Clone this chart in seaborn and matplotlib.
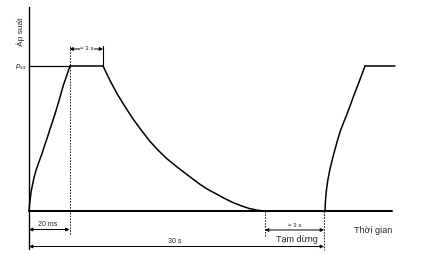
import matplotlib
matplotlib.use("Agg")
import matplotlib.pyplot as plt
import seaborn as sns
import pandas as pd

sns.set_style("white")
plt.rcParams['font.family'] = ['Liberation Sans', 'DejaVu Sans']

# schematic time positions (drawing units) and pressure as fraction of p_ss
rise1_t = [29, 29.5, 30.3, 31.3, 32.5, 34, 36, 38.5, 41.7, 44.5, 47.5, 50,
           52.7, 55.5, 58.5, 61, 63.5, 66.5, 70]
rise1_p = [0, 0.04, 0.09, 0.14, 0.18, 0.23, 0.28, 0.33, 0.39, 0.45, 0.51, 0.565,
           0.62, 0.68, 0.75, 0.81, 0.87, 0.93, 1.0]
hold_t = [70, 103]
hold_p = [1.0, 1.0]
decay_t = [103, 110, 117, 125, 133, 141, 150, 158, 167, 175, 183, 192, 200,
           208, 217, 225, 233, 242, 250, 258, 265]
decay_p = [1.0, 0.90, 0.81, 0.72, 0.635, 0.56, 0.48, 0.42, 0.36, 0.315, 0.272,
           0.225, 0.184, 0.148, 0.115, 0.085, 0.058, 0.034, 0.016, 0.005, 0.0]
rise2_t = [325, 325.3, 325.8, 326.7, 328, 329.7, 331.7, 334, 337, 340, 343,
           346.5, 350, 354, 358, 361.5, 365]
rise2_p = [0, 0.05, 0.10, 0.159, 0.22, 0.28, 0.338, 0.40, 0.475, 0.545, 0.60,
           0.66, 0.724, 0.80, 0.87, 0.935, 1.0]
hold2_t = [365, 395]
hold2_p = [1.0, 1.0]

labels = {"y": "Áp suất", "x": "Thời gian", "p": r"$p_{ss}$",
          "hold": "≈ 3 s", "rise": "20 ms", "cycle": "30 s",
          "pause": "≈ 3 s", "pause_lbl": "Tạm dừng"}

def py(pix):
    return (212 - pix) / 145.0

fig = plt.figure(figsize=(4.32, 2.55), dpi=100)
ax = fig.add_axes([0, 0, 1, 1])
ax.set_xlim(0, 432)
ax.set_ylim(py(255), py(0))
ax.axis("off")

segs = [(rise1_t, rise1_p), (hold_t, hold_p), (decay_t, decay_p),
        (rise2_t, rise2_p), (hold2_t, hold2_p)]
for t, p in segs:
    df = pd.DataFrame({"t": t, "p": p})
    sns.lineplot(data=df, x="t", y="p", ax=ax, color="black", lw=1.1,
                 sort=False, estimator=None, legend=False)

k = "black"
# axes lines
ax.plot([29, 392], [0, 0], color=k, lw=1.4)
ax.plot([29, 29], [py(8), py(250)], color=k, lw=1.0)
# p level line from axis to curve top
ax.plot([29, 70], [1, 1], color=k, lw=0.9)
# dashed extension lines
ax.plot([69.5, 69.5], [py(47), py(236)], color=k, lw=0.6, ls=(0, (2, 1.5)))
ax.plot([265, 265], [0, py(238)], color=k, lw=0.6, ls=(0, (2, 1.5)))
ax.plot([324, 324], [0, py(251)], color=k, lw=0.6, ls=(0, (2, 1.5)))
ax.plot([103, 103], [1, py(47)], color=k, lw=0.8)

def dim(x0, x1, y, lw=0.7):
    ax.annotate("", xy=(x1, py(y)), xytext=(x0, py(y)),
                arrowprops=dict(arrowstyle="<|-|>", color=k, lw=lw,
                                mutation_scale=5, shrinkA=0, shrinkB=0))

dim(69.5, 103, 50)
dim(29, 69.5, 230.5)
dim(265, 324, 231)
dim(29, 324, 247.5)

ax.text(21, py(32), labels["y"], rotation=90, ha="center", va="center", fontsize=6)
ax.text(26, 1.0, labels["p"], ha="right", va="center", fontsize=5)
ax.text(87, py(48), labels["hold"], ha="center", va="center", fontsize=4.5,
        bbox=dict(facecolor="white", edgecolor="none", pad=0.3))
ax.text(48, py(228), labels["rise"], ha="center", va="bottom", fontsize=5)
ax.text(175, py(245), labels["cycle"], ha="center", va="bottom", fontsize=5)
ax.text(295, py(228.5), labels["pause"], ha="center", va="bottom", fontsize=4.5)
ax.text(297, py(240), labels["pause_lbl"], ha="center", va="center", fontsize=6.5)
ax.text(373, py(231), labels["x"], ha="center", va="center", fontsize=6.5)

fig.savefig("out.png", dpi=100, facecolor="white")
